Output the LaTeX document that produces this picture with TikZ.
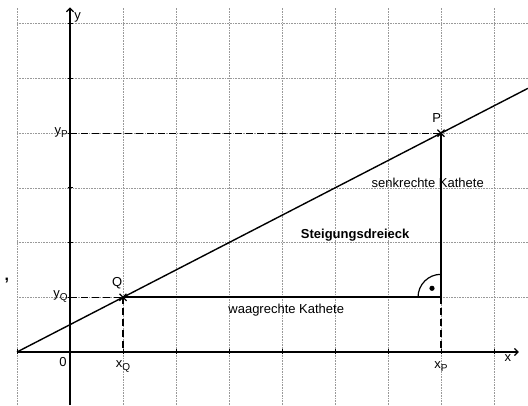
\documentclass[tikz,border=0pt]{standalone}
\usepackage{fontspec}
\setmainfont{Liberation Sans}
\usetikzlibrary{arrows.meta}
\begin{document}
\begin{tikzpicture}[x=53pt,y=54.7pt,
  gridline/.style={gray!80,densely dotted,line width=0.6pt},
  axisline/.style={black,line width=1.3pt},
  mainline/.style={black,line width=1.4pt},
  legline/.style={black,line width=1.7pt},
  dashline/.style={black,line width=1.3pt,dash pattern=on 7pt off 4pt},
  lbl/.style={font=\fontsize{13}{15}\selectfont,inner sep=1pt},
  crossmark/.style={black,line width=1.3pt}]
\useasboundingbox (-1.3208,-0.969) rectangle (8.6415,6.435);
% grid
\foreach \i in {-1,1,2,3,4,5,6,7,8} \draw[gridline] (\i,-0.969) -- (\i,6.3);
\foreach \j in {1,...,6} \draw[gridline] (-1,\j) -- (8.64,\j);
% axes
\coordinate (xs) at (-1,0);
\coordinate (xe) at (8.47,0);
\coordinate (ys) at (0,-0.969);
\coordinate (ye) at (0,6.3);
\draw[axisline,-{Straight Barb[length=3.5pt,width=7pt]}] (xs) -- (xe);
\draw[axisline,-{Straight Barb[length=3.5pt,width=7pt]}] (ys) -- (ye);
\foreach \i in {-1,1,2,3,4,5,6,7,8} \draw[black,line width=0.9pt] (\i,-2.5pt) -- (\i,2.5pt);
\foreach \j in {1,...,6} \draw[black,line width=0.9pt] (-2.5pt,\j) -- (2.5pt,\j);
% points
\coordinate (Q) at (1,1);
\coordinate (P) at (7,4);
\coordinate (R) at (7,1);
\coordinate (L0) at (-1,0);
\coordinate (L1) at (8.64,4.82);
\coordinate (xQ) at (1,0);
\coordinate (xP) at (7,0);
\coordinate (yQ) at (0,1);
\coordinate (yP) at (0,4);
% dashed helper lines
\draw[dashline] (yP) -- (P);
\draw[dashline] (yQ) -- (Q);
\draw[dashline] (Q) -- (xQ);
\draw[dashline] (R) -- (xP);
% straight line
\draw[mainline] (L0) -- (L1);
% triangle legs
\draw[legline] (Q) -- (R);
\draw[legline] (R) -- (P);
% right angle mark
\draw[black,line width=1.2pt] ([xshift=-23pt]R) arc[start angle=180,end angle=90,radius=23pt];
\fill[black] ([xshift=-9pt,yshift=9pt]R) circle (2.6pt);
% crosses
\draw[crossmark] ([shift={(-3.5pt,-3.5pt)}]P) -- ([shift={(3.5pt,3.5pt)}]P);
\draw[crossmark] ([shift={(-3.5pt,3.5pt)}]P) -- ([shift={(3.5pt,-3.5pt)}]P);
\draw[crossmark] ([shift={(-3.5pt,-3.5pt)}]Q) -- ([shift={(3.5pt,3.5pt)}]Q);
\draw[crossmark] ([shift={(-3.5pt,3.5pt)}]Q) -- ([shift={(3.5pt,-3.5pt)}]Q);
% labels
\node[lbl,anchor=west] (ly) at (0.06,6.11) {y};
\node[lbl] (lx) at (8.26,-0.11) {x};
\node[lbl] (l0) at (-0.13,-0.18) {0};
\node[lbl] (lxQ) at (1,-0.26) {x\raisebox{-3pt}{\fontsize{10}{11}\selectfont Q}};
\node[lbl] (lxP) at (7,-0.26) {x\raisebox{-3pt}{\fontsize{10}{11}\selectfont P}};
\node[lbl,anchor=east] (lyP) at (-0.02,4.02) {y\raisebox{-3pt}{\fontsize{10}{11}\selectfont P}};
\node[lbl,anchor=east] (lyQ) at (-0.02,1.02) {y\raisebox{-3pt}{\fontsize{10}{11}\selectfont Q}};
\node[lbl] (lP) at (6.92,4.27) {P};
\node[lbl] (lQ) at (0.89,1.26) {Q};
\node[lbl] (lsk) at (6.75,3.09) {senkrechte Kathete};
\node[lbl,font=\fontsize{13}{15}\selectfont\bfseries] (lsd) at (5.38,2.14) {Steigungsdreieck};
\node[lbl] (lwk) at (4.08,0.77) {waagrechte Kathete};
\node[lbl,font=\fontsize{16}{16}\selectfont\bfseries] (lcomma) at (-1.19,1.3) {,};
\end{tikzpicture}
\end{document}
